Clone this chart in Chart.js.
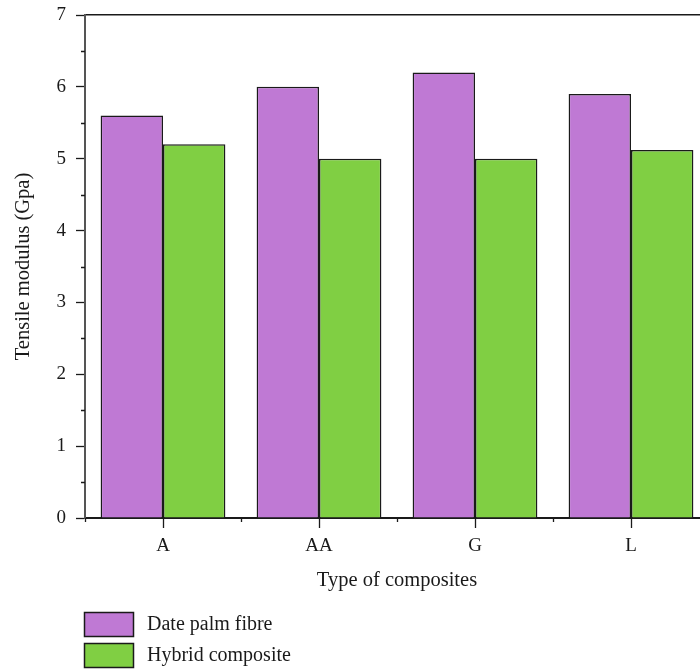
<!DOCTYPE html>
<html>
<head>
<meta charset="utf-8">
<script src="https://cdn.jsdelivr.net/npm/chart.js@4/dist/chart.umd.min.js"></script>
<style>
  html, body { margin: 0; padding: 0; overflow: hidden; background: #fff; }
  #wrap { width: 709px; height: 669px; }
</style>
</head>
<body>
<div id="wrap"><canvas id="c" width="709" height="669"></canvas></div>
<script>
// Tensile modulus per composite type
const categories = ['A', 'AA', 'G', 'L'];
const seriesNames = ['Date palm fibre', 'Hybrid composite'];
const datePalmFibre = [5.6, 6.0, 6.2, 5.9];
const hybridComposite = [5.2, 5.0, 5.0, 5.12];
const yTickValues = [0, 1, 2, 3, 4, 5, 6, 7];
const yMinorValues = [0.5, 1.5, 2.5, 3.5, 4.5, 5.5, 6.5];

const FONT = "'Liberation Serif', 'Times New Roman', serif";
const INK = '#1a1a1a';
const PURPLE = '#bf79d4';
const GREEN = '#80cf43';

// short minor ticks on both axes
const minorTicks = {
  id: 'minorTicks',
  afterDraw(chart) {
    const { ctx, scales: { x, y } } = chart;
    ctx.save();
    ctx.strokeStyle = INK;
    ctx.lineWidth = 1.3;
    ctx.beginPath();
    yMinorValues.forEach(v => {
      const py = Math.round(y.getPixelForValue(v)) + 0.5;
      ctx.moveTo(y.right - 4, py);
      ctx.lineTo(y.right, py);
    });
    for (let i = 0; i <= categories.length; i++) {
      const px = Math.round(x.getPixelForValue(i - 0.5)) + 0.5;
      ctx.moveTo(px, x.top);
      ctx.lineTo(px, x.top + 4);
    }
    ctx.stroke();
    ctx.restore();
  }
};

// stacked legend below the axis title
const stackedLegend = {
  id: 'stackedLegend',
  afterDraw(chart) {
    const ctx = chart.ctx;
    const left = 84, top = chart.height - 57, boxW = 49, boxH = 24, gap = 31;
    ctx.save();
    ctx.font = '20px ' + FONT;
    ctx.textBaseline = 'middle';
    chart.data.datasets.forEach((ds, i) => {
      const by = top + i * gap;
      ctx.fillStyle = ds.backgroundColor;
      ctx.fillRect(left, by, boxW, boxH);
      ctx.strokeStyle = INK;
      ctx.lineWidth = 1.5;
      ctx.strokeRect(left + 0.5, by + 0.5, boxW, boxH);
      ctx.fillStyle = INK;
      ctx.fillText(ds.label, left + 63, by + boxH / 2 + 1);
    });
    ctx.restore();
  }
};

new Chart(document.getElementById('c'), {
  type: 'bar',
  data: {
    labels: categories,
    datasets: [
      { label: seriesNames[0], data: datePalmFibre, backgroundColor: PURPLE },
      { label: seriesNames[1], data: hybridComposite, backgroundColor: GREEN }
    ]
  },
  options: {
    responsive: false,
    devicePixelRatio: 1,
    animation: false,
    datasets: {
      bar: { borderColor: INK, borderWidth: 1.5, categoryPercentage: 0.8, barPercentage: 1.0 }
    },
    layout: { padding: { top: 15, left: 0, right: 0, bottom: 76 } },
    plugins: { legend: { display: false }, tooltip: { enabled: false } },
    scales: {
      x: {
        grid: { offset: false, drawOnChartArea: false, drawTicks: true, tickLength: 10, tickColor: INK, tickWidth: 1.3 },
        border: { color: INK, width: 2 },
        ticks: { font: { family: FONT, size: 19 }, color: INK, padding: 7 },
        title: { display: true, text: 'Type of composites', font: { family: FONT, size: 20.5 }, color: INK, padding: { top: 4, bottom: 0 } },
        afterFit: s => { s.height = 75; s.paddingLeft = 0; s.paddingRight = 0; }
      },
      x2: {
        type: 'category',
        position: 'top',
        grid: { display: false },
        ticks: { display: false },
        border: { display: true, color: INK, width: 1.5 },
        afterFit: s => { s.height = 0; s.paddingLeft = 0; s.paddingRight = 0; }
      },
      y: {
        min: 0,
        max: 7,
        afterBuildTicks: s => { s.ticks = yTickValues.map(v => ({ value: v })); },
        grid: { drawOnChartArea: false, drawTicks: true, tickLength: 9, tickColor: INK, tickWidth: 1.3 },
        border: { color: '#555', width: 2 },
        ticks: { font: { family: FONT, size: 19 }, color: INK, padding: 10 },
        title: { display: true, text: 'Tensile modulus (Gpa)', font: { family: FONT, size: 20.5 }, color: INK, padding: { top: 11, bottom: 0 } },
        afterFit: s => { s.width = 85; s.paddingTop = 0; s.paddingBottom = 0; }
      }
    }
  },
  plugins: [minorTicks, stackedLegend]
});
</script>
</body>
</html>
